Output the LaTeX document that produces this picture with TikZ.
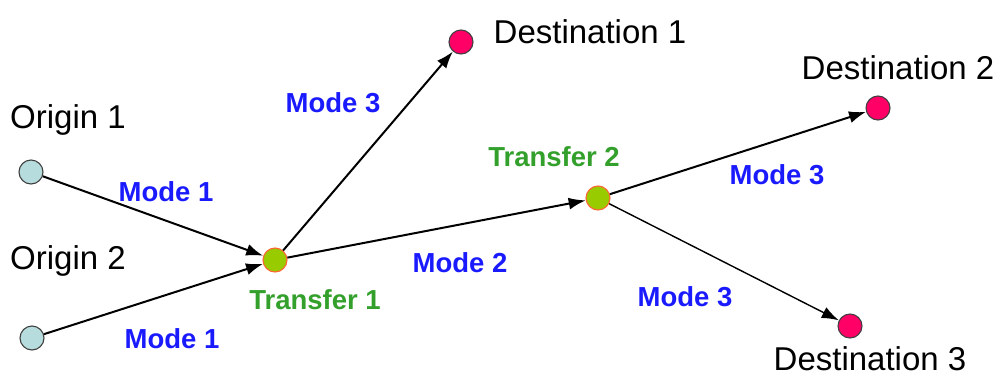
\documentclass[tikz,border=0pt]{standalone}
\usepackage{fontspec}
\setmainfont{Liberation Sans}
\usetikzlibrary{arrows.meta}
\definecolor{origfill}{HTML}{B7DCDD}
\definecolor{transfill}{HTML}{99CC00}
\definecolor{transline}{HTML}{FF6633}
\definecolor{destfill}{HTML}{FF0066}
\definecolor{modeblue}{HTML}{1A1AFF}
\definecolor{transgreen}{HTML}{33A02C}
\begin{document}
\begin{tikzpicture}[x=1pt,y=-1pt,
	stop/.style={circle,draw=black!75,line width=1.1pt,minimum size=24pt,inner sep=0pt},
	place/.style={font=\fontsize{33pt}{36pt}\selectfont},
	mode/.style={text=modeblue,font=\bfseries\fontsize{27.5pt}{30pt}\selectfont},
	tname/.style={text=transgreen,font=\bfseries\fontsize{27.5pt}{30pt}\selectfont},
	leg/.style={line width=2pt,-{Latex[length=17pt,width=12pt]}}]
	\useasboundingbox (0,0) rectangle (1001,378);
	% stops
	\foreach \n/\x/\y in {o1/31/172,o2/32/338}{
		\node[stop,fill=origfill] (\n) at (\x,\y) {};
	}
	\foreach \n/\x/\y in {t1/275/260,t2/598/198}{
		\node[stop,fill=transfill,draw=transline] (\n) at (\x,\y) {};
	}
	\foreach \n/\x/\y in {d1/461/42,d2/878/108,d3/850/326}{
		\node[stop,fill=destfill] (\n) at (\x,\y) {};
	}
	% place names
	\foreach \n/\x/\y/\t in {lo1/68/120/Origin 1,lo2/68/261/Origin 2,
		ld1/590/32/Destination 1,ld2/898/68/Destination 2,ld3/870/359/Destination 3}{
		\node[place] (\n) at (\x,\y) {\t};
	}
	\node[tname] (lt1) at (315,300) {Transfer 1};
	\node[tname] (lt2) at (554,157) {Transfer 2};
	% legs
	\draw[leg] (o1) -- (t1);
	\draw[leg] (o2) -- (t1);
	\draw[leg] (t1) -- (d1);
	\draw[leg] (t1) -- (t2);
	\draw[leg] (t2) -- (d2);
	\draw[leg,line width=1.4pt] (t2) -- (d3);
	% modes
	\foreach \n/\x/\y/\t in {m1/166/192/1,m2/172/339/1,m3/460/263/2,
		m4/333/103/3,m5/777/175/3,m6/685/297/3}{
		\node[mode] (\n) at (\x,\y) {Mode \t};
	}
\end{tikzpicture}
\end{document}
